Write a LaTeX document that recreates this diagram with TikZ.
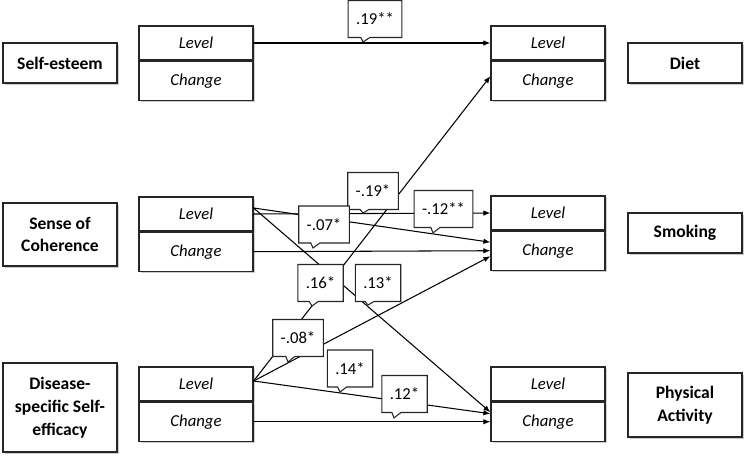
\documentclass[tikz,border=0pt]{standalone}
\usepackage{fontspec}
\setmainfont{Carlito}
\usepackage{tikz}
\usetikzlibrary{arrows.meta,shapes.callouts,shadows}

\begin{document}
\begin{tikzpicture}[x=0.02cm,y=-0.02cm,>={Latex[length=1.4mm,width=1.1mm]},line cap=round,
  boxshadow/.style={drop shadow={shadow xshift=0.9pt,shadow yshift=-0.9pt,fill=black!40}},
  lab/.style={draw=black!85,fill=white,line width=0.7pt,minimum width=2.28cm,align=center,
    font=\fontsize{10}{13}\selectfont\bfseries,boxshadow},
  lvl/.style={draw=black!85,fill=white,line width=0.7pt,minimum width=2.28cm,minimum height=0.68cm,
    font=\fontsize{9.5}{12}\selectfont\itshape,boxshadow},
  chg/.style={lvl,minimum height=0.78cm,anchor=north},
  coef/.style={rectangle callout,draw=black!85,fill=white,line width=0.6pt,minimum height=0.74cm,
    inner xsep=0.16cm,callout pointer width=0.18cm,font=\fontsize{9.5}{12}\selectfont},
  eff/.style={->,line width=0.6pt}]
\useasboundingbox (0,0) rectangle (750,459);
\node[lab,minimum height=0.8cm] (se) at (60,63) {Self-esteem};
\node[lab,minimum height=1.26cm] (soc) at (60,234.5) {Sense of\\Coherence};
\node[lab,minimum height=1.78cm] (dss) at (60,407.5) {Disease-\\specific Self-\\efficacy};
\node[lab,minimum height=0.8cm] (diet) at (685,63) {Diet};
\node[lab,minimum height=0.8cm] (smk) at (685,233) {Smoking};
\node[lab,minimum height=1.28cm] (pa) at (685,405) {Physical\\Activity};
\node[lvl] (seL) at (196,43) {Level};
\node[chg] (seC) at (seL.south) {Change};
\node[lvl] (socL) at (196,214) {Level};
\node[chg] (socC) at (socL.south) {Change};
\node[lvl] (dsL) at (196,384) {Level};
\node[chg] (dsC) at (dsL.south) {Change};
\node[lvl] (dtL) at (548,43) {Level};
\node[chg] (dtC) at (dtL.south) {Change};
\node[lvl] (smL) at (548,213) {Level};
\node[chg] (smC) at (smL.south) {Change};
\node[lvl] (paL) at (548,384) {Level};
\node[chg] (paC) at (paL.south) {Change};
\draw[eff] (seL.east) -- (dtL.west);
\draw[eff] ([yshift=0.06cm]dsL.east) -- ([yshift=0.09cm]dtC.west);
\draw[eff] (socL.east) -- (smL.west);
\draw[eff] ([yshift=0.12cm]socL.east) -- ([yshift=0.17cm]smC.west);
\draw[eff] (socC.east) -- (smC.west);
\draw[eff] ([yshift=0.12cm]socL.east) -- ([yshift=0.19cm]paC.west);
\draw[eff] ([yshift=0.06cm]dsL.east) -- ([yshift=-0.11cm]smC.west);
\draw[eff] ([yshift=0.06cm]dsL.east) -- ([yshift=0.16cm]paC.west);
\draw[eff] (dsC.east) -- (paC.west);
\node[coef,callout absolute pointer={(363,42)}] (b19) at (375,19) {.19**};
\node[coef,callout absolute pointer={(363,213)}] (bm19) at (373,191) {-.19*};
\node[coef,callout absolute pointer={(313,248)}] (bm07) at (324,224.5) {-.07*};
\node[coef,callout absolute pointer={(433,233)}] (bm12) at (443.5,209) {-.12**};
\node[coef,callout absolute pointer={(312,306)}] (b16) at (320.5,283) {.16*};
\node[coef,callout absolute pointer={(368,305)}] (b13) at (378,283) {.13*};
\node[coef,callout absolute pointer={(288,362)}] (bm08) at (298,338) {-.08*};
\node[coef,callout absolute pointer={(340,392)}] (b14) at (350,368.5) {.14*};
\node[coef,callout absolute pointer={(394,418)}] (b12) at (404.5,394) {.12*};
\end{tikzpicture}
\end{document}
